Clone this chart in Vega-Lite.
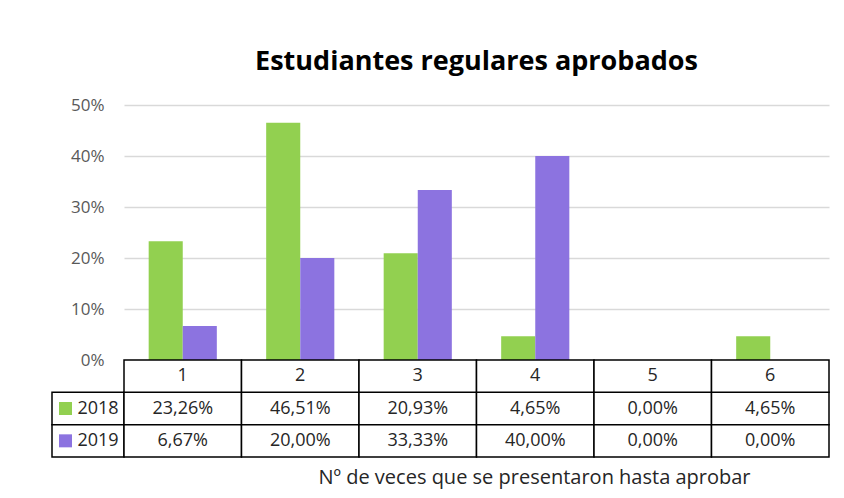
{
  "$schema": "https://vega.github.io/schema/vega-lite/v6.json",
  "padding": {"left": 51, "top": 48, "right": 10, "bottom": 5},
  "background": "white",
  "config": {
    "locale": {"number": {"decimal": ",", "thousands": ".", "grouping": [3], "currency": ["", " €"]}},
    "view": {"stroke": null},
    "font": "Open Sans",
    "text": {"font": "Open Sans"}
  },
  "data": {
    "values": [
      {"cat": "1", "year": "2018", "value": 0.2326},
      {"cat": "1", "year": "2019", "value": 0.0667},
      {"cat": "2", "year": "2018", "value": 0.4651},
      {"cat": "2", "year": "2019", "value": 0.2},
      {"cat": "3", "year": "2018", "value": 0.2093},
      {"cat": "3", "year": "2019", "value": 0.3333},
      {"cat": "4", "year": "2018", "value": 0.0465},
      {"cat": "4", "year": "2019", "value": 0.4},
      {"cat": "5", "year": "2018", "value": 0},
      {"cat": "5", "year": "2019", "value": 0},
      {"cat": "6", "year": "2018", "value": 0.0465},
      {"cat": "6", "year": "2019", "value": 0}
    ]
  },
  "columns": 2,
  "bounds": "flush",
  "spacing": 0,
  "resolve": {"scale": {"x": "independent", "y": "independent"}},
  "concat": [
    {
      "width": 72,
      "height": 255,
      "transform": [{"filter": "false"}],
      "mark": "point",
      "encoding": {}
    },
    {
      "width": 705,
      "height": 255,
      "title": {
        "text": "Estudiantes regulares aprobados",
        "fontSize": 27,
        "fontWeight": "bold",
        "font": "Open Sans",
        "color": "black",
        "anchor": "middle",
        "frame": "group",
        "offset": 20
      },
      "mark": {"type": "bar"},
      "encoding": {
        "x": {
          "field": "cat",
          "type": "nominal",
          "scale": {"paddingInner": 0.42, "paddingOuter": 0.21},
          "axis": null
        },
        "xOffset": {"field": "year", "type": "nominal", "scale": {"paddingInner": 0, "paddingOuter": 0}},
        "y": {
          "field": "value",
          "type": "quantitative",
          "scale": {"domain": [0, 0.5]},
          "axis": {
            "format": ".0%",
            "values": [0, 0.1, 0.2, 0.3, 0.4, 0.5],
            "domain": false,
            "ticks": false,
            "labelPadding": 20,
            "labelFontSize": 17,
            "labelColor": "#595959",
            "labelFont": "Open Sans",
            "gridColor": "#d9d9d9",
            "gridWidth": 1.5,
            "title": null
          }
        },
        "color": {
          "field": "year",
          "type": "nominal",
          "scale": {"domain": ["2018", "2019"], "range": ["#92D050", "#8C73E0"]},
          "legend": null
        }
      }
    },
    {
      "width": 72,
      "height": 97,
      "transform": [{"filter": "datum.cat == '1'"}],
      "layer": [
        {
          "mark": {"type": "rect", "fill": "white", "stroke": "black", "strokeWidth": 1.5},
          "encoding": {
            "y": {
              "field": "year",
              "type": "nominal",
              "scale": {"domain": ["h", "2018", "2019"], "paddingInner": 0, "paddingOuter": 0},
              "axis": null
            }
          }
        },
        {
          "mark": {"type": "square", "size": 169, "filled": true, "opacity": 1, "xOffset": -4.5},
          "encoding": {
            "x": {
              "datum": "sw",
              "type": "nominal",
              "scale": {"domain": ["sw", "lab"], "paddingInner": 0, "paddingOuter": 0},
              "axis": null
            },
            "y": {"field": "year", "type": "nominal", "axis": null},
            "color": {"field": "year", "type": "nominal", "legend": null}
          }
        },
        {
          "mark": {"type": "text", "fontSize": 18, "align": "center", "dx": -8, "color": "#262626"},
          "encoding": {
            "x": {"datum": "lab", "type": "nominal", "axis": null},
            "y": {"field": "year", "type": "nominal", "axis": null},
            "text": {"field": "year", "type": "nominal"}
          }
        }
      ]
    },
    {
      "width": 705,
      "height": 97,
      "layer": [
        {
          "mark": {"type": "rect", "fill": "white", "stroke": "black", "strokeWidth": 1.5},
          "encoding": {
            "x": {
              "field": "cat",
              "type": "nominal",
              "scale": {"paddingInner": 0, "paddingOuter": 0},
              "axis": {
                "labels": false,
                "ticks": false,
                "domain": false,
                "title": "Nº de veces que se presentaron hasta aprobar",
                "titleFont": "Open Sans",
                "titleFontSize": 20,
                "titleFontWeight": "normal",
                "titleColor": "#262626",
                "titlePadding": 10,
                "titleX": 410
              }
            },
            "y": {
              "field": "year",
              "type": "nominal",
              "scale": {"domain": ["h", "2018", "2019"], "paddingInner": 0, "paddingOuter": 0},
              "axis": null
            }
          }
        },
        {
          "mark": {"type": "text", "fontSize": 18, "color": "#262626"},
          "encoding": {
            "x": {"field": "cat", "type": "nominal"},
            "y": {"field": "year", "type": "nominal"},
            "text": {"field": "value", "type": "quantitative", "format": ".2%"}
          }
        },
        {
          "transform": [{"filter": "datum.year == '2018'"}],
          "mark": {"type": "rect", "fill": "white", "stroke": "black", "strokeWidth": 1.5},
          "encoding": {
            "x": {"field": "cat", "type": "nominal"},
            "y": {"datum": "h", "type": "nominal"}
          }
        },
        {
          "transform": [{"filter": "datum.year == '2018'"}],
          "mark": {"type": "text", "fontSize": 18, "color": "#262626"},
          "encoding": {
            "x": {"field": "cat", "type": "nominal"},
            "y": {"datum": "h", "type": "nominal"},
            "text": {"field": "cat", "type": "nominal"}
          }
        }
      ]
    }
  ]
}
